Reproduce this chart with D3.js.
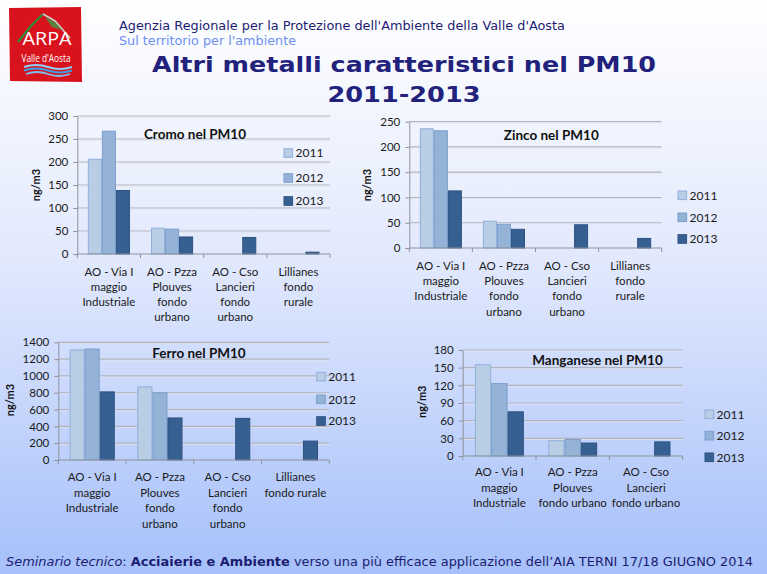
<!DOCTYPE html>
<html><head><meta charset="utf-8">
<script src="https://cdn.jsdelivr.net/npm/d3@7"></script>
<style>html,body{margin:0;padding:0;overflow:hidden;background:#fff}svg{display:block}</style>
</head><body>
<svg id="c" width="767" height="574"></svg>
<script>
// ---------- DATA ----------
const years = ["2011", "2012", "2013"];

const cromoCategories = ["AO - Via I\nmaggio\nIndustriale", "AO - Pzza\nPlouves\nfondo\nurbano", "AO - Cso\nLancieri\nfondo\nurbano", "Lillianes\nfondo\nrurale"];
const cromo2011 = [206, 56, null, null];
const cromo2012 = [267, 54, null, null];
const cromo2013 = [138, 37, 36, 4];
const cromoTicks = [0, 50, 100, 150, 200, 250, 300];

const zincoCategories = ["AO - Via I\nmaggio\nIndustriale", "AO - Pzza\nPlouves\nfondo\nurbano", "AO - Cso\nLancieri\nfondo\nurbano", "Lillianes\nfondo\nrurale"];
const zinco2011 = [236, 53, null, null];
const zinco2012 = [232, 47, null, null];
const zinco2013 = [113, 37, 46, 19];
const zincoTicks = [0, 50, 100, 150, 200, 250];

const ferroCategories = ["AO - Via I\nmaggio\nIndustriale", "AO - Pzza\nPlouves\nfondo\nurbano", "AO - Cso\nLancieri\nfondo\nurbano", "Lillianes\nfondo rurale"];
const ferro2011 = [1310, 870, null, null];
const ferro2012 = [1320, 800, null, null];
const ferro2013 = [810, 500, 495, 225];
const ferroTicks = [0, 200, 400, 600, 800, 1000, 1200, 1400];

const manganeseCategories = ["AO - Via I\nmaggio\nIndustriale", "AO - Pzza\nPlouves\nfondo urbano", "AO - Cso\nLancieri\nfondo urbano"];
const manganese2011 = [155, 26, null];
const manganese2012 = [123, 28, null];
const manganese2013 = [75, 22, 24];
const manganeseTicks = [0, 30, 60, 90, 120, 150, 180];

// ---------- LAYOUT ----------
const charts = [
  {title: "Cromo nel PM10", cats: cromoCategories, series: [cromo2011, cromo2012, cromo2013], ticks: cromoTicks,
   x0: 77.3, x1: 330, yTop: 116, yBot: 254, tx: 195, ty: 134, lx: 284, ly: [153, 178, 201], yLabX: 36, yLabY: 185, catY: 271.7, catLH: 15.2},
  {title: "Zinco nel PM10", cats: zincoCategories, series: [zinco2011, zinco2012, zinco2013], ticks: zincoTicks,
   x0: 409.3, x1: 661.7, yTop: 121.7, yBot: 248, tx: 551.3, ty: 135.3, lx: 678, ly: [195.3, 217.3, 239], yLabX: 367.3, yLabY: 185, catY: 265.7, catLH: 15.3},
  {title: "Ferro nel PM10", cats: ferroCategories, series: [ferro2011, ferro2012, ferro2013], ticks: ferroTicks,
   x0: 58.3, x1: 329.3, yTop: 342.3, yBot: 460, tx: 199, ty: 353.3, lx: 316.7, ly: [376.7, 399.3, 421], yLabX: 10, yLabY: 400, catY: 476.7, catLH: 15.8},
  {title: "Manganese nel PM10", cats: manganeseCategories, series: [manganese2011, manganese2012, manganese2013], ticks: manganeseTicks,
   x0: 462.7, x1: 682.7, yTop: 350, yBot: 456, tx: 597.5, ty: 360, lx: 705, ly: [414.3, 435.7, 457.3], yLabX: 421.7, yLabY: 401.7, catY: 472.3, catLH: 15.5}
];

const fills = ["#b9cde5", "#95b3d7", "#376092"];
const strokes = ["#8fb0da", "#7a9ecf", "#2d5282"];
const FONT = "Lato, 'Open Sans', sans-serif";

const svg = d3.select("#c");
const defs = svg.append("defs");
const bg = defs.append("linearGradient").attr("id", "bg").attr("x1", 0).attr("y1", 0).attr("x2", 0).attr("y2", 1);
bg.append("stop").attr("offset", "0%").attr("stop-color", "#ffffff");
bg.append("stop").attr("offset", "45%").attr("stop-color", "#e2e9fd");
bg.append("stop").attr("offset", "100%").attr("stop-color", "#a6c0fa");
svg.append("rect").attr("width", 767).attr("height", 574).attr("fill", "url(#bg)");

// ---------- LOGO ----------
const logo = svg.append("g");
logo.append("path").attr("d", "M9,8 L81,7 L82,82 L10,81 Z").attr("fill", "#d9131d");
logo.append("path").attr("d", "M18,42 L31,26 L43,14").attr("fill", "none").attr("stroke", "#2e8b3a").attr("stroke-width", 2.2);
logo.append("path").attr("d", "M43,14 L55,21 L70,38").attr("fill", "none").attr("stroke", "#c9d3c9").attr("stroke-width", 1.6);
logo.append("path").attr("d", "M45,17 L55,22 L62,30 L52,27 Z").attr("fill", "#3e9a48").attr("opacity", 0.8);
logo.append("text").attr("x", 47).attr("y", 45).attr("text-anchor", "middle").attr("font-family", "'Open Sans', sans-serif")
  .attr("font-size", 18).attr("fill", "#fff").attr("textLength", 49).attr("lengthAdjust", "spacingAndGlyphs").text("ARPA");
logo.append("text").attr("x", 46).attr("y", 62).attr("text-anchor", "middle").attr("font-family", "'Open Sans', sans-serif")
  .attr("font-size", 10).attr("fill", "#fff").attr("textLength", 49).attr("lengthAdjust", "spacingAndGlyphs").text("Valle d'Aosta");
logo.append("path").attr("d", "M24,67 Q36,63 48,67 T72,67").attr("fill", "none").attr("stroke", "#8fd0f5").attr("stroke-width", 2);
logo.append("path").attr("d", "M24,70.5 Q36,66.5 48,70.5 T72,70.5").attr("fill", "none").attr("stroke", "#3d9fe6").attr("stroke-width", 2);
logo.append("path").attr("d", "M26,74 Q37,70 48,74 T70,74").attr("fill", "none").attr("stroke", "#7cc2f0").attr("stroke-width", 1.8);

// ---------- HEADER ----------
svg.append("text").attr("x", 119).attr("y", 30).attr("font-family", "'DejaVu Sans', sans-serif").attr("font-size", 11.5)
  .attr("fill", "#1c1c72").attr("textLength", 446).attr("lengthAdjust", "spacingAndGlyphs")
  .text("Agenzia Regionale per la Protezione dell'Ambiente della Valle d'Aosta");
svg.append("text").attr("x", 119).attr("y", 45).attr("font-family", "'DejaVu Sans', sans-serif").attr("font-size", 11.5)
  .attr("fill", "#6e8ff0").attr("textLength", 177).attr("lengthAdjust", "spacingAndGlyphs")
  .text("Sul territorio per l'ambiente");
svg.append("text").attr("x", 404).attr("y", 72.3).attr("text-anchor", "middle").attr("font-family", "'DejaVu Sans', sans-serif")
  .attr("font-weight", "bold").attr("font-size", 21.5).attr("fill", "#22227c").attr("textLength", 504).attr("lengthAdjust", "spacingAndGlyphs")
  .text("Altri metalli caratteristici nel PM10");
svg.append("text").attr("x", 404).attr("y", 101.7).attr("text-anchor", "middle").attr("font-family", "'DejaVu Sans', sans-serif")
  .attr("font-weight", "bold").attr("font-size", 21.5).attr("fill", "#22227c").attr("textLength", 153).attr("lengthAdjust", "spacingAndGlyphs")
  .text("2011-2013");

// ---------- CHARTS ----------
charts.forEach(c => {
  const g = svg.append("g");
  const y = d3.scaleLinear().domain([0, d3.max(c.ticks)]).range([c.yBot, c.yTop]);
  const x = d3.scaleBand().domain(c.cats).range([c.x0, c.x1]).padding(0);
  const xi = d3.scaleBand().domain(years).range([0, x.bandwidth()]).paddingInner(0).paddingOuter(0.75);

  // gridlines
  g.append("g").selectAll("line").data(c.ticks.filter(t => t > 0)).join("line")
    .attr("x1", c.x0).attr("x2", c.x1).attr("y1", d => y(d)).attr("y2", d => y(d))
    .attr("stroke", "#b2b4bb").attr("stroke-width", 1.2);
  g.append("g").selectAll("line").data(c.ticks.filter(t => t > 0)).join("line")
    .attr("x1", c.x0).attr("x2", c.x1).attr("y1", d => y(d) + 1.2).attr("y2", d => y(d) + 1.2)
    .attr("stroke", "#dfe3ee").attr("stroke-width", 0.8);

  // y axis
  const ya = g.append("g").attr("transform", `translate(${c.x0},0)`)
    .call(d3.axisLeft(y).tickValues(c.ticks).tickSize(4).tickSizeOuter(0).tickPadding(5).tickFormat(d3.format("d")));
  ya.select(".domain").attr("stroke", "#8f939c");
  ya.selectAll(".tick line").attr("stroke", "#8f939c");
  ya.selectAll("text").attr("font-family", FONT).attr("font-size", 11.5).attr("fill", "#1a1a1a");

  // bars
  c.series.forEach((s, si) => {
    g.append("g").selectAll("rect").data(c.cats.map((cat, i) => ({cat, v: s[i]})).filter(d => d.v != null)).join("rect")
      .attr("x", d => x(d.cat) + xi(years[si]) + 0.5)
      .attr("width", xi.bandwidth() - 1)
      .attr("y", d => y(d.v))
      .attr("height", d => c.yBot - y(d.v))
      .attr("fill", fills[si]).attr("stroke", strokes[si]).attr("stroke-width", 1);
  });

  // x axis
  g.append("line").attr("x1", c.x0).attr("x2", c.x1).attr("y1", c.yBot).attr("y2", c.yBot).attr("stroke", "#8f939c");
  const bounds = c.cats.map(cat => x(cat)).concat([c.x1]);
  g.append("g").selectAll("line").data(bounds).join("line")
    .attr("x1", d => d).attr("x2", d => d).attr("y1", c.yBot).attr("y2", c.yBot + 4).attr("stroke", "#8f939c");

  // category labels
  c.cats.forEach(cat => {
    const t = g.append("text").attr("text-anchor", "middle").attr("font-family", FONT).attr("font-size", 11.5).attr("fill", "#1a1a1a");
    cat.split("\n").forEach((line, li) => {
      t.append("tspan").attr("x", x(cat) + x.bandwidth() / 2).attr("y", c.catY + li * c.catLH).attr("dy", "0.35em").text(line);
    });
  });

  // title
  g.append("text").attr("x", c.tx).attr("y", c.ty).attr("dy", "0.35em").attr("text-anchor", "middle")
    .attr("font-family", FONT).attr("font-weight", "bold").attr("font-size", 13.5).attr("fill", "#111").text(c.title);

  // y label
  g.append("text").attr("transform", `translate(${c.yLabX},${c.yLabY}) rotate(-90)`).attr("dy", "0.35em").attr("text-anchor", "middle")
    .attr("font-family", FONT).attr("font-weight", "bold").attr("font-size", 11).attr("fill", "#111").text("ng/m3");

  // legend
  years.forEach((yr, i) => {
    g.append("rect").attr("x", c.lx).attr("y", c.ly[i] - 4.3).attr("width", 8.6).attr("height", 8.6)
      .attr("fill", fills[i]).attr("stroke", strokes[i]);
    g.append("text").attr("x", c.lx + 11.5).attr("y", c.ly[i]).attr("dy", "0.35em")
      .attr("font-family", FONT).attr("font-size", 12).attr("fill", "#1a1a1a").text(yr);
  });
});

// ---------- FOOTER ----------
const ft = svg.append("text").attr("x", 6).attr("y", 566).attr("font-family", "'DejaVu Sans', sans-serif").attr("font-size", 11.5)
  .attr("fill", "#1c1c72").attr("textLength", 747).attr("lengthAdjust", "spacingAndGlyphs");
ft.append("tspan").attr("font-style", "italic").text("Seminario tecnico");
ft.append("tspan").text(": ");
ft.append("tspan").attr("font-weight", "bold").text("Acciaierie e Ambiente");
ft.append("tspan").text(" verso una più efficace applicazione dell\u2019AIA TERNI 17/18 GIUGNO  2014");
</script>
</body></html>
